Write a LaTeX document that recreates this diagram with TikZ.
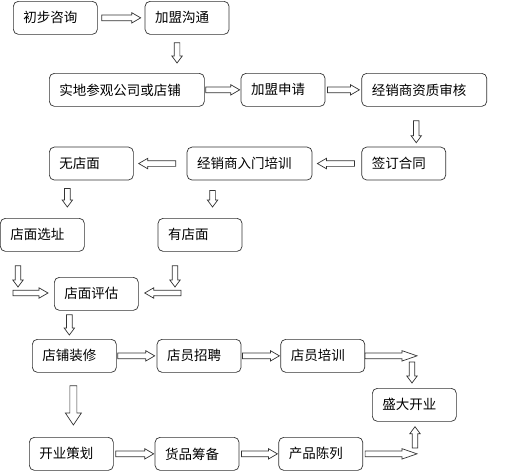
\documentclass[tikz,border=0pt]{standalone}
\usepackage{fontspec}
\newfontfamily\cjk{Noto Sans CJK SC}
\usetikzlibrary{positioning, calc}
\tikzset{
  sg/.store in=\blksg, eg/.store in=\blkeg, sw/.store in=\blksw, hw/.store in=\blkhw, hl/.store in=\blkhl,
  sg=3pt, eg=3pt, sw=2.8pt, hw=5.2pt, hl=9pt,
  box/.style={draw=black!80, line width=0.7pt, rounded corners=5pt, minimum height=33pt, inner xsep=10pt, inner ysep=0pt, text width=#1, align=left, font=\cjk\fontsize{13.5}{16}\selectfont},
  box/.default=64pt,
  blk/.style={draw=black!80, line width=0.7pt, fill=white, to path={let \p1=($(\tikztostart)!\blksg!(\tikztotarget)$), \p2=($(\tikztotarget)!\blkeg!(\tikztostart)$), \p3=($(\p2)!\blkhl!(\p1)$) in ($(\p1)!\blksw!90:(\p2)$) -- ($(\p3)!\blksw!-90:(\p1)$) -- ($(\p3)!\blkhw!-90:(\p1)$) -- (\p2) -- ($(\p3)!\blkhw!90:(\p1)$) -- ($(\p3)!\blksw!90:(\p1)$) -- ($(\p1)!\blksw!-90:(\p2)$) -- cycle}}
}

\begin{document}
\begin{tikzpicture}[x=1pt, y=-1pt]
\useasboundingbox (0,0) rectangle (507,474);
% joining
\node[box, anchor=north west] (zx) at (13,1) {初步咨询};
\node[box, right=47pt of zx] (gt) {加盟沟通};
\node[box=135pt, anchor=north west] (sd) at (49,73) {实地参观公司或店铺};
\node[box, right=36pt of sd] (sq) {加盟申请};
\node[box=105pt, right=36pt of sq] (zz) {经销商资质审核};
\node[box, below=40pt of zz.south west, anchor=north west] (qd) {签订合同};
\node[box=105pt, left=49pt of qd] (rm) {经销商入门培训};
\node[box, left=53pt of rm] (wd) {无店面};
% shop
\node[box, anchor=north west] (xz) at (0,218) {店面选址};
\node[box, right=73pt of xz] (yd) {有店面};
\node[box, anchor=north west] (pg) at (54,277) {店面评估};
\node[box, anchor=north west] (zxiu) at (32,339) {店铺装修};
\node[box, right=40pt of zxiu] (zp) {店员招聘};
\node[box, right=39pt of zp] (px) {店员培训};
\node[box, anchor=north west] (ky) at (372,388) {盛大开业};
\node[box, anchor=north west] (ch) at (29,437) {开业策划};
\node[box, right=41pt of ch] (hp) {货品筹备};
\node[box, right=39pt of hp] (cl) {产品陈列};
% free ends
\coordinate (xzd) at (18,287);
\coordinate (xzr) at (13,293);
\coordinate (ydd) at (175,287);
\coordinate (ydl) at (181,293);
\coordinate (pxr) at (417,355);
\coordinate (kyd) at (412,362);
\coordinate (clr) at (417,454);
\coordinate (kyu) at (415,448);
% arrows
\draw[blk, sg=4pt, eg=4pt] (zx.east) to (gt.west);
\draw[blk, sg=8pt, eg=10pt, hl=7pt] ([xshift=-10pt]gt.south) to ([xshift=-10pt]gt.south |- sd.north);
\draw[blk, sg=1pt, eg=1pt] (sd.east) to (sq.west);
\draw[blk, sg=2pt, eg=2pt] (sq.east) to (zz.west);
\draw[blk, sg=14pt, eg=4pt, hl=7pt] ([xshift=-8pt]zz.south) to ([xshift=-8pt]zz.south |- qd.north);
\draw[blk, sg=7pt, eg=5pt] (qd.west) to (rm.east);
\draw[blk, sg=11pt, eg=5pt] (rm.west) to (wd.east);
\draw[blk, sg=8pt, eg=11pt, hl=7pt] ([xshift=-24pt]wd.south) to ([xshift=-24pt]wd.south |- xz.north);
\draw[blk, sg=10pt, eg=11pt, hl=7pt] ([xshift=-37pt]rm.south) to ([xshift=-37pt]rm.south |- yd.north);
\draw[blk, sg=14pt, eg=0pt, hl=7pt] (xzd |- xz.south) to (xzd);
\draw[blk, sg=0pt, eg=6pt] (xzr) to (xzr -| pg.west);
\draw[blk, sg=14pt, eg=0pt, hl=7pt] (ydd |- yd.south) to (ydd);
\draw[blk, sg=0pt, eg=6pt] (ydl) to (ydl -| pg.east);
\draw[blk, sg=4pt, eg=4pt, hl=7pt] ([xshift=-27pt]pg.south) to ([xshift=-27pt]pg.south |- zxiu.north);
\draw[blk, sg=1pt, eg=2pt] (zxiu.east) to (zp.west);
\draw[blk, sg=1pt, eg=1pt] (zp.east) to (px.west);
\draw[blk, sg=0pt, eg=0pt, hl=15pt] (px.east) to (px.east -| pxr);
\draw[blk, sg=0pt, eg=5pt, hl=7pt] (kyd) to (kyd |- ky.north);
\draw[blk, sg=13pt, eg=12pt, sw=3.5pt, hw=8pt, hl=12pt] ([xshift=-1pt]zxiu.south) to ([xshift=-1pt]zxiu.south |- ch.north);
\draw[blk, sg=2pt, eg=1pt] (ch.east) to (hp.west);
\draw[blk, sg=2pt, eg=1pt] (hp.east) to (cl.west);
\draw[blk, sg=2pt, eg=0pt, hl=15pt] (cl.east) to (cl.east -| clr);
\draw[blk, sg=0pt, eg=5pt, hl=7pt] (kyu) to (kyu |- ky.south);
\end{tikzpicture}
\end{document}
